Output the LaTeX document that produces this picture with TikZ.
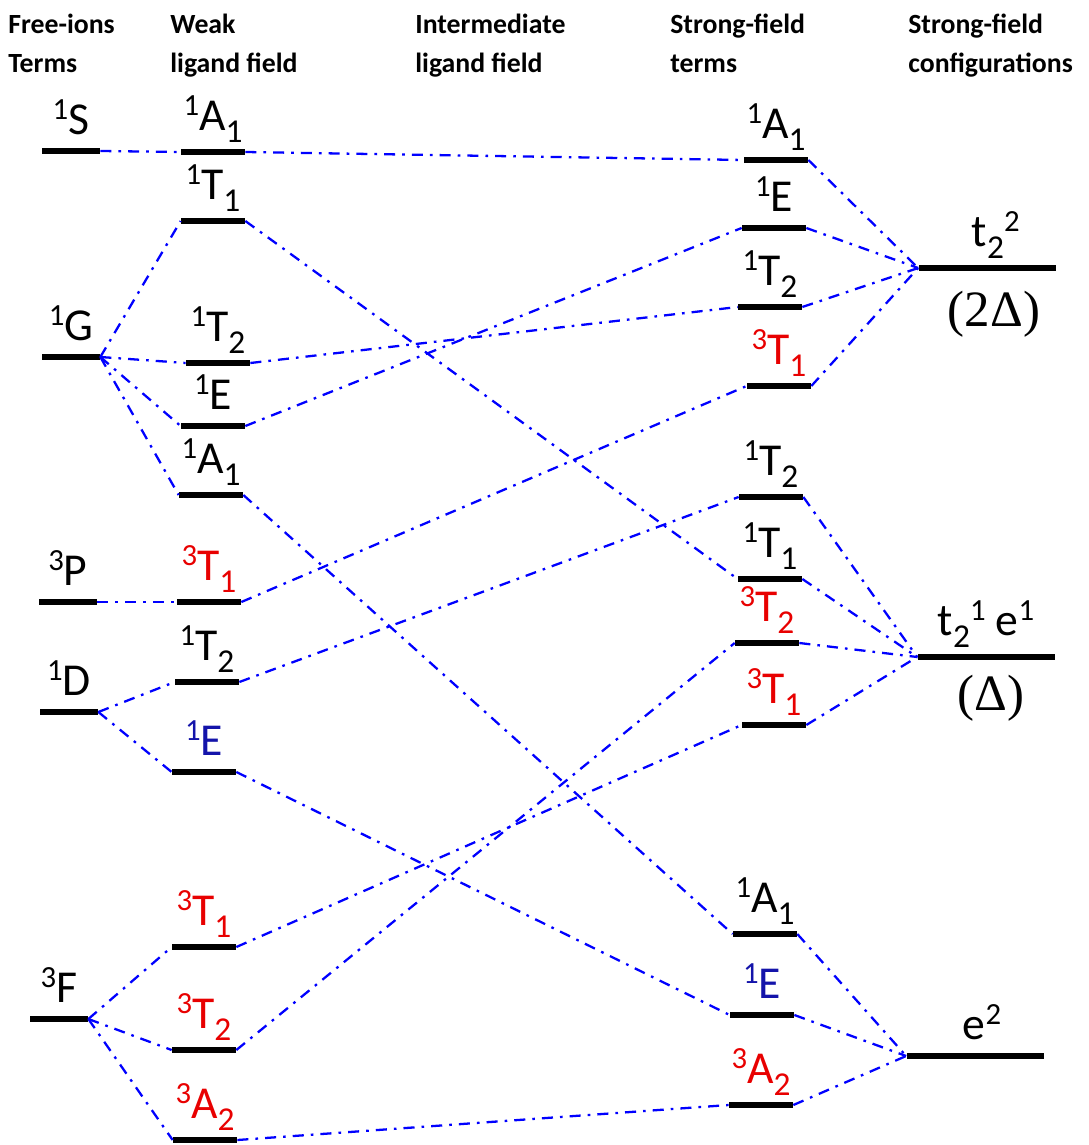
\documentclass[tikz,border=0pt]{standalone}
\usepackage{fontspec}
\setmainfont{Carlito}
\newfontfamily\serifdelta{Liberation Serif}
\usetikzlibrary{positioning}

\definecolor{tripred}{RGB}{232,0,0}
\definecolor{sngblue}{RGB}{20,20,170}
\definecolor{corrblue}{RGB}{0,0,255}

% raised / lowered indices of the term symbols
\newcommand{\spx}[1]{\raisebox{8.6pt}{\fontsize{17.5}{17.5}\selectfont #1}}
\newcommand{\sbx}[1]{\raisebox{-7pt}{\fontsize{19}{19}\selectfont #1}}

\begin{document}
\begin{tikzpicture}[
    x=0.02cm, y=-0.02cm,
    label distance=3.2pt,
    lvl/.style={fill=black, inner sep=0, minimum height=3.6pt, minimum width=1.28cm},
    free/.style={lvl, minimum width=1.16cm},
    conf/.style={lvl, minimum width=2.74cm},
    lab/.style={font=\fontsize{26}{28}\selectfont, inner sep=0, execute at begin node={\rule[-4pt]{0pt}{0pt}}},
    labr/.style={lab, text=tripred},
    labb/.style={lab, text=sngblue},
    delta/.style={font=\serifdelta\fontsize{29}{31}\selectfont, inner sep=0},
    head/.style={anchor=north west, inner sep=0, align=left, font=\bfseries\fontsize{15.8}{22.1}\selectfont},
    corr/.style={draw=corrblue, line width=1.3pt, dash pattern=on 6.3pt off 4pt on 1.5pt off 4pt}
]
\useasboundingbox (0,0) rectangle (1088,1145);

% ==================== Column headings ====================
\node[head] (hFree) at (8,14) {Free-ions\\Terms};
\node[head] (hWeak) at (170,14) {Weak\\ligand field};
\node[head] (hMid) at (415,14) {Intermediate\\ligand field};
\node[head] (hStr) at (670,14) {Strong-field\\terms};
\node[head] (hConf) at (908,14) {Strong-field\\configurations};

% ==================== Free-ion terms ====================
\node[free, label={[lab]above:\spx{1}S}] (fS) at (71,151) {};
\node[free, label={[lab]above:\spx{1}G}] (fG) at (71,357) {};
\node[free, label={[lab]above:\spx{3}P}] (fP) at (68,602) {};
\node[free, label={[lab]above:\spx{1}D}] (fD) at (69,712) {};
\node[free, label={[lab]above:\spx{3}F}] (fF) at (59,1019) {};

% ==================== Weak ligand field ====================
\node[lvl, label={[lab]above:\spx{1}A\sbx{1}}] (wA1) at (213,152) {};
\node[lvl, label={[lab]above:\spx{1}T\sbx{1}}] (wT1) at (213,221) {};
\node[lvl, label={[lab]above:\spx{1}T\sbx{2}}] (wT2) at (218,363) {};
\node[lvl, label={[lab]above:\spx{1}E}] (wE) at (213,426) {};
\node[lvl, label={[lab]above:\spx{1}A\sbx{1}}] (wA1b) at (211,495) {};
\node[lvl, label={[labr]above:\spx{3}T\sbx{1}}] (wT1t) at (209,602) {};
\node[lvl, label={[lab]above:\spx{1}T\sbx{2}}] (wT2b) at (207,682) {};
\node[lvl, label={[labb]above:\spx{1}E}] (wEb) at (204,772) {};
\node[lvl, label={[labr]above:\spx{3}T\sbx{1}}] (wT1u) at (204,947) {};
\node[lvl, label={[labr]above:\spx{3}T\sbx{2}}] (wT2t) at (204,1050) {};
\node[lvl, label={[labr]above:\spx{3}A\sbx{2}}] (wA2) at (205,1140) {};

% ==================== Strong-field terms ====================
\node[lvl, label={[lab]above:\spx{1}A\sbx{1}}] (sA1) at (776,160) {};
\node[lvl, label={[lab]above:\spx{1}E}] (sE) at (774,228) {};
\node[lvl, label={[lab]above:\spx{1}T\sbx{2}}] (sT2) at (770,307) {};
\node[lvl, label={[labr]above:\spx{3}T\sbx{1}}] (sT1t) at (779,386) {};
\node[lvl, label={[lab]above:\spx{1}T\sbx{2}}] (sT2b) at (771,497) {};
\node[lvl, label={[lab]above:\spx{1}T\sbx{1}}] (sT1) at (770,579) {};
\node[lvl, label={[labr]above:\spx{3}T\sbx{2}}] (sT2t) at (767,643) {};
\node[lvl, label={[labr]above:\spx{3}T\sbx{1}}] (sT1u) at (774,725) {};
\node[lvl, label={[lab]above:\spx{1}A\sbx{1}}] (sA1b) at (765,934) {};
\node[lvl, label={[labb]above:\spx{1}E}] (sEb) at (762,1015) {};
\node[lvl, label={[labr]above:\spx{3}A\sbx{2}}] (sA2) at (761,1105) {};

% ==================== Strong-field configurations ====================
\node[conf, label={[lab, xshift=5pt]above:t\sbx{2}\spx{2}}] (cT) at (987,268) {};
\node[delta, below=11pt of cT, xshift=4pt] (cTd) {(2Δ)};
\node[conf, label={[lab]above:t\sbx{2}\spx{1} e\spx{1}}] (cTE) at (986,657) {};
\node[delta, below=8pt of cTE, xshift=3pt] (cTEd) {(Δ)};
\node[conf, label={[lab, xshift=4pt]above:e\spx{2}}] (cE) at (975,1056) {};

% free ion -> weak field
\draw[corr] (fS.east) -- (wA1.west);
\draw[corr] (fG.east) -- (wT1.west);
\draw[corr] (fG.east) -- (wT2.west);
\draw[corr] (fG.east) -- (wE.west);
\draw[corr] (fG.east) -- (wA1b.west);
\draw[corr] (fP.east) -- (wT1t.west);
\draw[corr] (fD.east) -- (wT2b.west);
\draw[corr] (fD.east) -- (wEb.west);
\draw[corr] (fF.east) -- (wT1u.west);
\draw[corr] (fF.east) -- (wT2t.west);
\draw[corr] (fF.east) -- (wA2.west);

% weak field -> strong field
\draw[corr] (wA1.east) -- (sA1.west);
\draw[corr] (wT1.east) -- (sT1.west);
\draw[corr] (wT2.east) -- (sT2.west);
\draw[corr] (wE.east) -- (sE.west);
\draw[corr] (wA1b.east) -- (sA1b.west);
\draw[corr] (wT1t.east) -- (sT1t.west);
\draw[corr] (wT2b.east) -- (sT2b.west);
\draw[corr] (wEb.east) -- (sEb.west);
\draw[corr] (wT1u.east) -- (sT1u.west);
\draw[corr] (wT2t.east) -- (sT2t.west);
\draw[corr] (wA2.east) -- (sA2.west);

% strong-field terms -> configurations
\draw[corr] (sA1.east) -- (cT.west);
\draw[corr] (sE.east) -- (cT.west);
\draw[corr] (sT2.east) -- (cT.west);
\draw[corr] (sT1t.east) -- (cT.west);
\draw[corr] (sT2b.east) -- (cTE.west);
\draw[corr] (sT1.east) -- (cTE.west);
\draw[corr] (sT2t.east) -- (cTE.west);
\draw[corr] (sT1u.east) -- (cTE.west);
\draw[corr] (sA1b.east) -- (cE.west);
\draw[corr] (sEb.east) -- (cE.west);
\draw[corr] (sA2.east) -- (cE.west);

\end{tikzpicture}
\end{document}
